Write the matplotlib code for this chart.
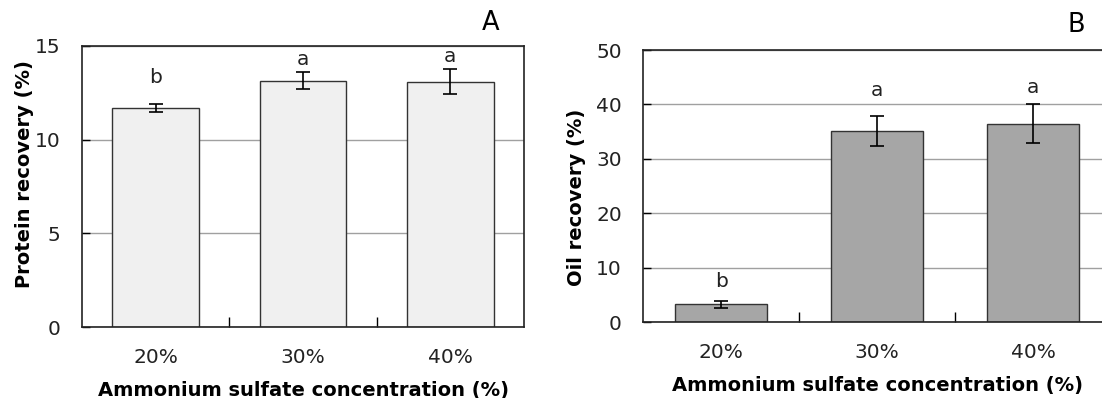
import matplotlib
matplotlib.use("Agg")
import matplotlib.pyplot as plt
import numpy as np

categories = ["20%", "30%", "40%"]
protein = [11.70, 13.14, 13.09]
protein_err = [0.22, 0.44, 0.66]
protein_letters = ["b", "a", "a"]
protein_letter_y = [13.32, 14.29, 14.42]

oil = [3.3, 35.1, 36.5]
oil_err = [0.6, 2.7, 3.5]
oil_letters = ["b", "a", "a"]
oil_letter_y = [7.45, 42.5, 43.1]

plt.rcParams['font.family'] = ['DejaVu Sans']
W, H = 1102, 398
fig = plt.figure(figsize=(W / 100, H / 100), dpi=100)

txt_col = '#222222'

def panel(rect, vals, errs, letters, letter_y, color, ylim, yticks, ylabel, tag, tagxy, ylabel_xy):
    ax = fig.add_axes(rect)
    x = np.arange(len(categories))
    ax.set_axisbelow(True)
    ax.bar(x, vals, width=0.59, color=color, edgecolor='#333333', linewidth=1.0, zorder=2)
    ax.errorbar(x, vals, yerr=errs, fmt='none', ecolor='black', elinewidth=1.2,
                capsize=5, capthick=1.2, zorder=3)
    for xi, lt, ly in zip(x, letters, letter_y):
        ax.text(xi, ly, lt, ha='center', va='center', fontsize=14.5, color=txt_col)
    ax.set_xlim(-0.5, len(categories) - 0.5)
    ax.set_ylim(*ylim)
    ax.set_yticks(yticks)
    ax.yaxis.grid(True, color='#a0a0a0', linewidth=1.0)
    ax.tick_params(axis='y', direction='in', length=6, width=1, labelsize=14.5,
                   labelcolor=txt_col, pad=15.5)
    ax.set_xticks(x)
    ax.set_xticklabels(categories)
    ax.tick_params(axis='x', which='major', length=0, labelsize=14.5,
                   labelcolor=txt_col, pad=15)
    ax.set_xticks([0.5, 1.5], minor=True)
    ax.tick_params(axis='x', which='minor', direction='in', length=7, width=1)
    for s in ax.spines.values():
        s.set_color('#222222')
        s.set_linewidth(1.2)
    ax.set_xlabel("Ammonium sulfate concentration (%)", fontsize=14, fontweight='bold',
                  labelpad=10, color='black')
    ax.set_ylabel(ylabel, fontsize=14, fontweight='bold', color='black')
    ax.yaxis.set_label_coords(ylabel_xy[0] / W, 1 - ylabel_xy[1] / H, transform=fig.transFigure)
    fig.text(tagxy[0] / W, 1 - tagxy[1] / H, tag, ha='center', va='center', fontsize=18.5)
    return ax

panel([82 / W, (H - 327.3) / H, 442 / W, (327.3 - 45.7) / H], protein, protein_err,
      protein_letters, protein_letter_y, '#f0f0f0', (0, 15), [0, 5, 10, 15],
      "Protein recovery (%)", "A", (490.7, 23), (34, 174))

panel([643.3 / W, (H - 322.3) / H, 468 / W, (322.3 - 50) / H], oil, oil_err,
      oil_letters, oil_letter_y, '#a6a6a6', (0, 50), [0, 10, 20, 30, 40, 50],
      "Oil recovery (%)", "B", (1076.7, 25), (586, 197.5))

fig.savefig("out.png", dpi=100)
